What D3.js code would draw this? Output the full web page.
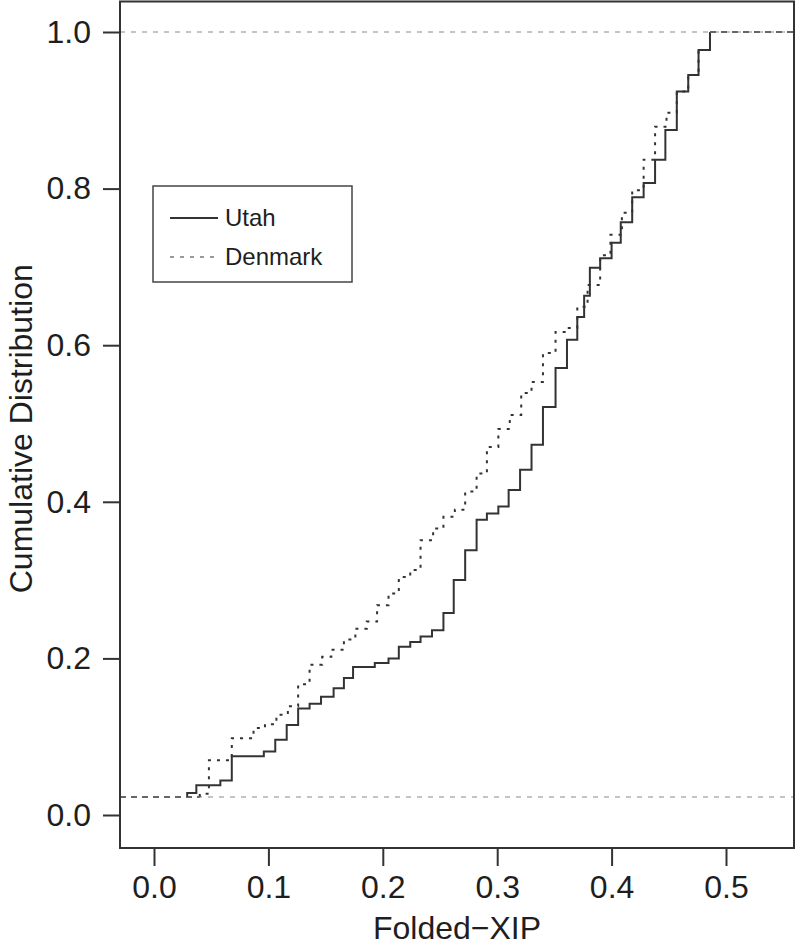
<!DOCTYPE html>
<html>
<head>
<meta charset="utf-8">
<script src="https://cdn.jsdelivr.net/npm/d3@7"></script>
<style>
  html, body { margin: 0; padding: 0; background: #fff; }
  svg { display: block; font-family: "Liberation Sans", Arial, Helvetica, sans-serif; }
</style>
</head>
<body>
<svg id="chart" width="795" height="948"></svg>
<script>
// ---------------- data ----------------
const xTickValues = [0.0, 0.1, 0.2, 0.3, 0.4, 0.5];
const yTickValues = [0.0, 0.2, 0.4, 0.6, 0.8, 1.0];
const refLineValues = [0.023, 1.0];      // grey dashed reference lines
const baseValue = 0.023;                  // level of the curves before the first step

const utahX = [0.029, 0.037, 0.058, 0.068, 0.096, 0.106, 0.116, 0.126, 0.136, 0.146,
               0.157, 0.166, 0.174, 0.193, 0.205, 0.214, 0.224, 0.233, 0.243, 0.253,
               0.262, 0.272, 0.282, 0.291, 0.301, 0.310, 0.320, 0.330, 0.340, 0.351,
               0.361, 0.370, 0.376, 0.381, 0.390, 0.400, 0.408, 0.418, 0.428, 0.438,
               0.447, 0.457, 0.467, 0.476, 0.486];
const utahY = [0.028, 0.038, 0.044, 0.075, 0.081, 0.096, 0.115, 0.136, 0.142, 0.151,
               0.162, 0.175, 0.189, 0.194, 0.200, 0.215, 0.221, 0.228, 0.236, 0.258,
               0.300, 0.338, 0.377, 0.385, 0.394, 0.415, 0.441, 0.473, 0.521, 0.571,
               0.607, 0.636, 0.663, 0.699, 0.711, 0.731, 0.757, 0.789, 0.807, 0.837,
               0.875, 0.924, 0.945, 0.977, 1.000];

const denmarkX = [0.040, 0.048, 0.068, 0.087, 0.097, 0.107, 0.117, 0.126, 0.136, 0.147,
                  0.155, 0.166, 0.176, 0.186, 0.195, 0.205, 0.214, 0.224, 0.233, 0.244,
                  0.253, 0.263, 0.272, 0.282, 0.291, 0.301, 0.311, 0.321, 0.330, 0.340,
                  0.351, 0.361, 0.370, 0.379, 0.390, 0.399, 0.409, 0.418, 0.428, 0.438,
                  0.448, 0.457, 0.467, 0.476, 0.486];
const denmarkY = [0.027, 0.070, 0.098, 0.111, 0.116, 0.128, 0.139, 0.167, 0.192, 0.202,
                  0.211, 0.224, 0.238, 0.247, 0.268, 0.283, 0.304, 0.313, 0.351, 0.366,
                  0.381, 0.390, 0.413, 0.436, 0.470, 0.493, 0.511, 0.539, 0.553, 0.590,
                  0.617, 0.622, 0.649, 0.677, 0.715, 0.741, 0.769, 0.798, 0.837, 0.879,
                  0.897, 0.924, 0.945, 0.977, 1.000];

const seriesNames = ["Utah", "Denmark"];
const xTitle = "Folded\u2212XIP";
const yTitle = "Cumulative Distribution";

// ---------------- layout ----------------
const box = { left: 120, right: 794, top: 1.5, bottom: 848 };
const svg = d3.select("#chart");

const x = d3.scaleLinear().domain([0, 0.5]).range([154, 726]);
const y = d3.scaleLinear().domain([0, 1]).range([815, 32]);
const xLo = x.invert(box.left), xHi = x.invert(box.right);

const ink = "#1e1e1e";
const lineCol = "#333";

// reference lines
svg.append("g").selectAll("line").data(refLineValues).join("line")
  .attr("x1", box.left).attr("x2", box.right)
  .attr("y1", d => y(d)).attr("y2", d => y(d))
  .attr("stroke", "#c4c4c4").attr("stroke-width", 2)
  .attr("stroke-dasharray", "5,6");

// step curves
const stepLine = d3.line().x(d => x(d[0])).y(d => y(d[1])).curve(d3.curveStepAfter);

function drawSeries(xs, ys, dash) {
  const pts = [[xs[0], baseValue]].concat(xs.map((v, i) => [v, ys[i]]));
  svg.append("path").attr("d", stepLine(pts))
    .attr("fill", "none").attr("stroke", lineCol).attr("stroke-width", 2)
    .attr("stroke-dasharray", dash);
  // extensions to the plot edges
  const ext = [[[xLo, baseValue], [xs[0], baseValue]],
               [[xs[xs.length - 1], ys[ys.length - 1]], [xHi, ys[ys.length - 1]]]];
  svg.append("g").selectAll("path").data(ext).join("path")
    .attr("d", d => d3.line().x(p => x(p[0])).y(p => y(p[1]))(d))
    .attr("fill", "none").attr("stroke", "#666").attr("stroke-width", 2)
    .attr("stroke-dasharray", "6,5");
}
drawSeries(denmarkX, denmarkY, "3,6");
drawSeries(utahX, utahY, null);

// box
svg.append("rect")
  .attr("x", box.left).attr("y", box.top)
  .attr("width", box.right - box.left).attr("height", box.bottom - box.top)
  .attr("fill", "none").attr("stroke", "#333").attr("stroke-width", 2);

// axes
const fontSize = 32;
const xAxis = svg.append("g").attr("transform", `translate(0,${box.bottom})`)
  .call(d3.axisBottom(x).tickValues(xTickValues).tickFormat(d3.format(".1f"))
        .tickSize(18).tickPadding(9));
const yAxis = svg.append("g").attr("transform", `translate(${box.left},0)`)
  .call(d3.axisLeft(y).tickValues(yTickValues).tickFormat(d3.format(".1f"))
        .tickSize(17).tickPadding(12));
[xAxis, yAxis].forEach(g => {
  g.select(".domain").remove();
  g.selectAll(".tick line").attr("stroke", "#333").attr("stroke-width", 2);
  g.selectAll(".tick text").attr("fill", ink)
    .style("font-size", fontSize + "px")
    .style("font-family", '"Liberation Sans", Arial, sans-serif');
});

// axis titles
svg.append("text")
  .attr("x", (box.left + box.right) / 2).attr("y", 939)
  .attr("text-anchor", "middle").attr("fill", ink)
  .style("font-size", fontSize + "px").text(xTitle);
svg.append("text")
  .attr("transform", `translate(32,${(box.top + box.bottom) / 2 + 4}) rotate(-90)`)
  .attr("text-anchor", "middle").attr("fill", ink)
  .style("font-size", fontSize + "px").text(yTitle);

// legend
const leg = svg.append("g");
leg.append("rect").attr("x", 153).attr("y", 186).attr("width", 199).attr("height", 96)
  .attr("fill", "#fff").attr("stroke", "#444").attr("stroke-width", 1.5);
const legStyles = [
  { stroke: "#333", dash: null },
  { stroke: "#999", dash: "4,6" }
];
seriesNames.forEach((name, i) => {
  const cy = 218 + i * 39;
  leg.append("line").attr("x1", 170).attr("x2", 218).attr("y1", cy).attr("y2", cy)
    .attr("stroke", legStyles[i].stroke).attr("stroke-width", 2)
    .attr("stroke-dasharray", legStyles[i].dash);
  leg.append("text").attr("x", 225).attr("y", cy).attr("dy", "0.35em")
    .attr("fill", ink).style("font-size", "24px").text(name);
});
</script>
</body>
</html>
